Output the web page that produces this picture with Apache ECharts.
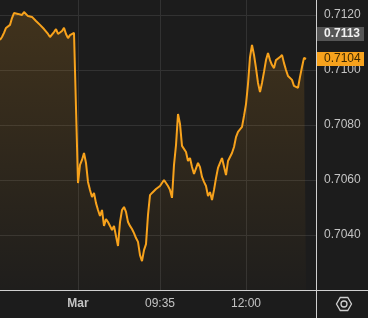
<!DOCTYPE html>
<html><head><meta charset="utf-8">
<script src="https://cdn.jsdelivr.net/npm/echarts@6/dist/echarts.min.js"></script>
<style>html,body{margin:0;padding:0;background:#1c1c1c}#c{width:368px;height:318px}</style>
</head><body><div id="c"></div>
<script>
// price series (one value per time slot)
const prices = [
0.71109,0.71120,0.71135,0.71153,0.71160,0.71164,0.71189,0.71207,0.71211,0.71204,
0.71207,0.71200,0.71211,0.71204,0.71196,0.71193,0.71193,0.71189,0.71178,0.71175,
0.71164,0.71160,0.71149,0.71142,0.71131,0.71120,0.71127,0.71138,0.71149,0.71131,
0.71127,0.71142,0.71153,0.71131,0.71116,0.71127,0.71124,0.71135,0.71138,
0.70589,0.70655,0.70673,0.70698,0.70662,0.70593,0.70564,0.70538,0.70553,0.70516,
0.70491,0.70469,0.70491,0.70433,0.70458,0.70447,0.70433,0.70418,0.70433,0.70396,
0.70360,0.70447,0.70491,0.70502,0.70484,0.70447,0.70433,0.70422,0.70407,0.70389,
0.70375,0.70327,0.70305,0.70345,0.70367,0.70473,0.70545,0.70553,0.70556,0.70567,
0.70571,0.70578,0.70585,0.70600,0.70593,0.70578,0.70564,0.70535,0.70655,0.70727,
0.70840,0.70804,0.70724,0.70731,0.70702,0.70669,0.70680,0.70647,0.70622,0.70629,
0.70662,0.70647,0.70611,0.70593,0.70578,0.70542,0.70556,0.70527,0.70564,0.70607,
0.70644,0.70662,0.70680,0.70684,0.70618,0.70669,0.70673,0.70698,0.70720,0.70756,
0.70775,0.70782,0.70793,0.70833,0.70876,0.70949,0.71047,0.71091,0.71055,0.71007,
0.70953,0.70920,0.70953,0.70993,0.71036,0.71062,0.71036,0.71018,0.71007,0.71036,
0.71036,0.71047,0.71055,0.71025,0.71000,0.70978,0.70982,0.70964,0.70942,0.70935,
0.70935,0.70975,0.71011,0.71044,0.71040
];
const slotCount = 159;                 // total time slots on the axis
const tickSlots = [39, 80, 123];       // slots carrying a time label
const tickLabels = ['Mar', '09:35', '12:00'];
const prevClose = 0.7113;
const yMin = 0.7020, yMax = 0.7140, yStep = 0.002;

const categories = Array.from({length: slotCount}, (_, i) => String(i));
const FONT = '"Liberation Sans", Arial, sans-serif';
const chart = echarts.init(document.getElementById('c'), null, {renderer: 'canvas'});

const option = {
  backgroundColor: '#1c1c1c',
  animation: false,
  grid: {left: 0, right: 52, top: -40, height: 330, containLabel: false, outerBoundsMode: 'none'},
  xAxis: {
    type: 'category', boundaryGap: false, data: categories,
    axisLine: {show: true, lineStyle: {color: '#cfcfcf', width: 1}},
    axisTick: {show: false},
    axisLabel: {
      interval: (i) => tickSlots.includes(i),
      formatter: (v, i) => {
        const k = tickSlots.indexOf(Number(v));
        if (k < 0) return '';
        return k === 0 ? '{b|' + tickLabels[k] + '}' : tickLabels[k];
      },
      color: '#c4c4c4', fontSize: 12, fontFamily: FONT, margin: 8,
      rich: {b: {fontWeight: 'bold', color: '#c4c4c4', fontSize: 12, fontFamily: FONT}}
    },
    splitLine: {show: true, interval: (i) => tickSlots.includes(i), lineStyle: {color: '#323232', width: 1}}
  },
  yAxis: {
    type: 'value', position: 'right', min: yMin, max: yMax, interval: yStep,
    axisLine: {show: true, lineStyle: {color: '#cfcfcf', width: 1}},
    axisTick: {show: false},
    axisLabel: {
      formatter: (v) => v.toFixed(4), color: '#c4c4c4', fontSize: 12, fontFamily: FONT,
      margin: 8, showMinLabel: false, showMaxLabel: false
    },
    splitLine: {show: true, lineStyle: {color: '#323232', width: 1}}
  },
  series: [{
    type: 'line', data: prices, showSymbol: false, symbol: 'none',
    lineStyle: {color: '#f7a21c', width: 2},
    areaStyle: {
      color: new echarts.graphic.LinearGradient(0, 0, 0, 1, [
        {offset: 0, color: 'rgba(247,162,28,0.24)'},
        {offset: 1, color: 'rgba(247,162,28,0.02)'}
      ])
    }
  }]
};
chart.setOption(option);

const yPrev = chart.convertToPixel({yAxisIndex: 0}, prevClose);
const lastVal = prices[prices.length - 1];
const yLast = chart.convertToPixel({yAxisIndex: 0}, lastVal);
const axisX = chart.convertToPixel({xAxisIndex: 0}, String(slotCount - 1));
const axisY = chart.convertToPixel({yAxisIndex: 0}, yMin);

function hexPoints(cx, cy, r) {
  const pts = [];
  for (let k = 0; k < 6; k++) {
    const a = Math.PI / 3 * k;
    pts.push([cx + r * Math.cos(a), cy + r * Math.sin(a)]);
  }
  return pts;
}

chart.setOption({
  graphic: [
    {type: 'line', z: 100, shape: {x1: axisX, y1: axisY + 0.5, x2: 368, y2: axisY + 0.5}, style: {stroke: '#cfcfcf', lineWidth: 1}},
    {type: 'line', z: 100, shape: {x1: axisX + 0.5, y1: axisY, x2: axisX + 0.5, y2: 318}, style: {stroke: '#cfcfcf', lineWidth: 1}},
    {type: 'rect', z: 100, shape: {x: axisX + 1, y: Math.round(yPrev) - 7, width: 47, height: 14}, style: {fill: '#555555'}},
    {type: 'text', z: 101, x: axisX + 8, y: Math.round(yPrev), style: {text: prevClose.toFixed(4), fill: '#f2f2f2', font: 'bold 12px ' + FONT, verticalAlign: 'middle', align: 'left'}},
    {type: 'rect', z: 100, shape: {x: axisX + 1, y: Math.round(yLast) - 7, width: 47, height: 14}, style: {fill: '#f7a21c'}},
    {type: 'text', z: 101, x: axisX + 8, y: Math.round(yLast), style: {text: lastVal.toFixed(4), fill: '#3d2800', font: '12px ' + FONT, verticalAlign: 'middle', align: 'left'}},
    {type: 'polygon', z: 100, shape: {points: hexPoints(344, 304, 7.5)}, style: {fill: 'none', stroke: '#cfcfcf', lineWidth: 1.3}},
    {type: 'circle', z: 100, shape: {cx: 344, cy: 304, r: 3}, style: {fill: 'none', stroke: '#cfcfcf', lineWidth: 1.3}}
  ]
});
</script>
</body></html>
